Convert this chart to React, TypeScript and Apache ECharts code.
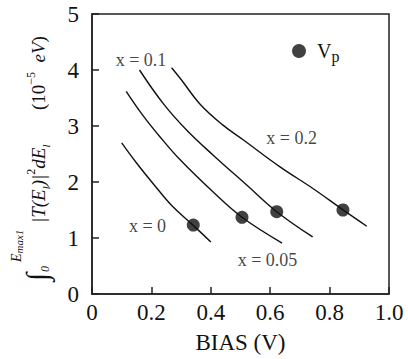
import React, { useEffect, useRef } from 'react';
import * as echarts from 'echarts';

const SERIF = '"Liberation Serif", "Times New Roman", serif';
const INK = '#111';

// Curves (BIAS in V, integral in 10^-5 eV)
const curveNames = ['x = 0', 'x = 0.05', 'x = 0.1', 'x = 0.2'];
const biasX0 = [0.10, 0.15, 0.206, 0.27, 0.34, 0.40];
const valX0 = [2.70, 2.34, 1.97, 1.57, 1.23, 0.93];
const biasX005 = [0.115, 0.17, 0.23, 0.296, 0.408, 0.505, 0.64];
const valX005 = [3.62, 3.20, 2.80, 2.40, 1.82, 1.37, 0.91];
const biasX01 = [0.16, 0.24, 0.32, 0.41, 0.52, 0.622, 0.743];
const valX01 = [4.00, 3.40, 2.92, 2.47, 1.95, 1.47, 1.02];
const biasX02 = [0.268, 0.30, 0.364, 0.44, 0.51, 0.633, 0.745, 0.843, 0.925];
const valX02 = [4.04, 3.83, 3.39, 3.02, 2.75, 2.27, 1.88, 1.51, 1.21];

// V_p points
const vpBias = [0.341, 0.505, 0.622, 0.845];
const vpValue = [1.23, 1.37, 1.47, 1.50];

// curve labels
const labelText = ['x = 0', 'x = 0.05', 'x = 0.1', 'x = 0.2'];
const labelX = [0.187, 0.591, 0.165, 0.672];
const labelY = [1.21, 0.60, 4.17, 2.78];

const xTicks = [0, 0.2, 0.4, 0.6, 0.8, 1.0];
const yTicks = [0, 1, 2, 3, 4, 5];

const zip = (a: number[], b: number[]) => a.map((v, i) => [v, b[i]]);
const curves = [zip(biasX0, valX0), zip(biasX005, valX005), zip(biasX01, valX01), zip(biasX02, valX02)];

export default function App() {
  const ref = useRef<HTMLDivElement>(null);
  useEffect(() => {
    const chart = echarts.init(ref.current!, null, { renderer: 'svg' });
    const option: any = {
      animation: false,
      backgroundColor: '#fff',
      grid: { left: 92, right: 19, top: 14, bottom: 58, show: true, borderColor: '#222', borderWidth: 1.5, backgroundColor: 'transparent' },
      xAxis: {
        type: 'value', min: xTicks[0], max: xTicks[xTicks.length - 1], interval: 0.2,
        axisLine: { lineStyle: { color: '#222', width: 1.5 } },
        axisTick: { inside: true, length: 7, lineStyle: { color: '#222', width: 1.5 } },
        splitLine: { show: false },
        axisLabel: {
          color: INK, fontFamily: SERIF, fontSize: 23, margin: 7,
          formatter: (v: number) => (v === 0 ? '0' : v.toFixed(1)),
        },
        name: 'BIAS (V)', nameLocation: 'middle', nameGap: 37,
        nameTextStyle: { color: INK, fontFamily: SERIF, fontSize: 23 },
      },
      yAxis: {
        type: 'value', min: yTicks[0], max: yTicks[yTicks.length - 1], interval: 1,
        axisLine: { show: true, lineStyle: { color: '#222', width: 1.5 } },
        axisTick: { show: true, inside: true, length: 7, lineStyle: { color: '#222', width: 1.5 } },
        splitLine: { show: false },
        axisLabel: { color: INK, fontFamily: SERIF, fontSize: 23, margin: 13 },
      },
      legend: {
        left: 292, top: 41, padding: 0, itemWidth: 14, itemHeight: 14,
        data: [{ name: 'Vp', icon: 'circle' }],
        formatter: () => '{v|V}{p|p}',
        textStyle: {
          rich: {
            v: { fontFamily: SERIF, fontSize: 20, color: INK, padding: [0, 0, 0, 6], lineHeight: 26, verticalAlign: 'middle' },
            p: { fontFamily: SERIF, fontSize: 16, color: INK, verticalAlign: 'bottom', padding: [10, 0, 0, 0] },
          },
        },
      },
      series: [
        ...curves.map((d, i) => ({
          name: curveNames[i], type: 'line', data: d, smooth: 0.4, showSymbol: false,
          lineStyle: { color: INK, width: 1.4 }, itemStyle: { color: INK }, silent: true,
        })),
        {
          name: 'Vp', type: 'scatter', data: zip(vpBias, vpValue), symbol: 'circle', symbolSize: 13,
          itemStyle: { color: INK }, z: 5,
        },
        {
          name: 'labels', type: 'scatter', symbolSize: 0,
          data: labelText.map((t, i) => ({ value: [labelX[i], labelY[i]], name: t })),
          label: { show: true, position: 'inside', formatter: (p: any) => p.name, color: INK, fontFamily: SERIF, fontSize: 18 },
          silent: true,
        },
      ],
      graphic: [
        {
          type: 'group', x: 38, y: 283, rotation: Math.PI / 2,
          children: [
            { type: 'text', x: 2, y: -2, style: { text: '∫', fontFamily: SERIF, fontStyle: 'italic', fontSize: 30, fill: INK, verticalAlign: 'middle', align: 'left' } },
            { type: 'text', x: 11, y: 7, style: { text: '0', fontFamily: SERIF, fontStyle: 'italic', fontSize: 12, fill: INK, verticalAlign: 'middle', align: 'left' } },
            {
              type: 'text', x: 21, y: -22,
              style: {
                text: '{e|E}{s|max1}', verticalAlign: 'middle', align: 'left', fill: INK,
                rich: {
                  e: { fontFamily: SERIF, fontStyle: 'italic', fontSize: 14, fill: INK, lineHeight: 16, verticalAlign: 'middle' },
                  s: { fontFamily: SERIF, fontStyle: 'italic', fontSize: 11, fill: INK, verticalAlign: 'bottom' },
                },
              },
            },
            {
              type: 'text', x: 60, y: 0,
              style: {
                text: '{m||T(E}{b|l}{m|)|}{t|2}{m|dE}{b|l}', verticalAlign: 'middle', align: 'left', fill: INK,
                rich: {
                  m: { fontFamily: SERIF, fontStyle: 'italic', fontSize: 19, fill: INK, lineHeight: 26, verticalAlign: 'middle' },
                  b: { fontFamily: SERIF, fontStyle: 'italic', fontSize: 11, fill: INK, verticalAlign: 'bottom' },
                  t: { fontFamily: SERIF, fontSize: 12, fill: INK, verticalAlign: 'top' },
                },
              },
            },
            {
              type: 'text', x: 173, y: 0,
              style: {
                text: '{n|(10}{t|−5}{i|  eV}{n|)}', verticalAlign: 'middle', align: 'left', fill: INK,
                rich: {
                  n: { fontFamily: SERIF, fontSize: 19, fill: INK, lineHeight: 26, verticalAlign: 'middle' },
                  i: { fontFamily: SERIF, fontStyle: 'italic', fontSize: 19, fill: INK, verticalAlign: 'middle' },
                  t: { fontFamily: SERIF, fontSize: 12, fill: INK, verticalAlign: 'top' },
                },
              },
            },
          ],
        },
      ],
    };
    chart.setOption(option);
    return () => chart.dispose();
  }, []);
  return <div ref={ref} style={{ position: 'fixed', left: 0, top: 0, width: 408, height: 359 }} />;
}
